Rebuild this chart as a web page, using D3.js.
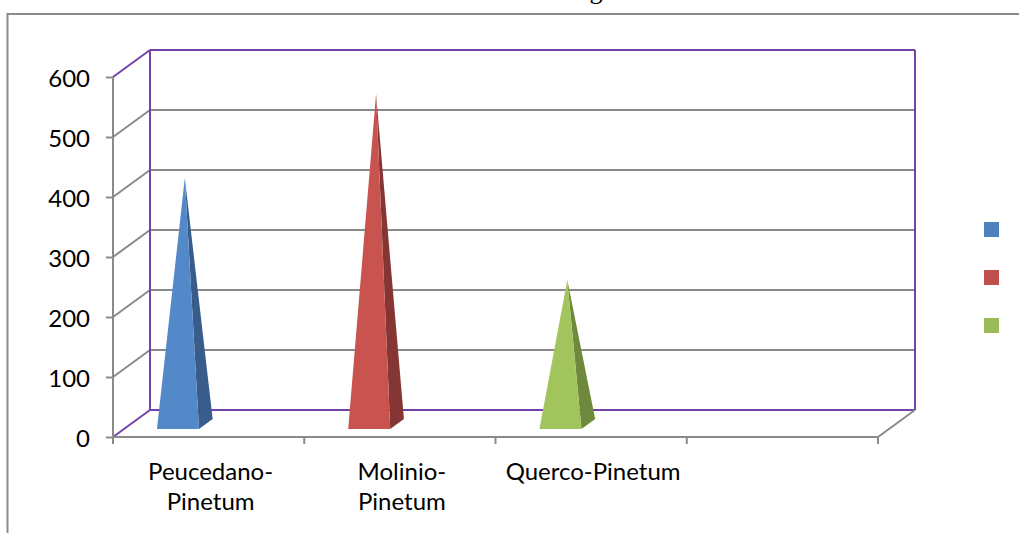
<!DOCTYPE html>
<html>
<head>
<meta charset="utf-8">
<script src="https://cdn.jsdelivr.net/npm/d3@7"></script>
<style>
  body { margin: 0; background: #fff; }
  svg { display: block; }
</style>
</head>
<body>
<script>
// chart data
const categories = ["Peucedano-Pinetum", "Molinio-Pinetum", "Querco-Pinetum", ""];
const tickLabels = [["Peucedano-", "Pinetum"], ["Molinio-", "Pinetum"], ["Querco-Pinetum"], [""]];
const values = [410, 550, 240, null];
const yTicks = [0, 100, 200, 300, 400, 500, 600];
const seriesColors = ["#4F81BD", "#C0504D", "#9BBB59"];
const frontColors = ["#5489c9", "#c9534f", "#a2c45d"];
const sideColors = ["#395d8b", "#853634", "#6f8a3d"];

let width = 1019;
let height = 533;

// 3D depth offset of the back wall
const depthX = 37, depthY = -27;

const x = d3.scaleBand()
    .domain(categories.map((d, i) => i))
    .range([113, 878])
    .padding(0);

const y = d3.scaleLinear()
    .domain([0, 600])
    .range([437, 77]);

const svg = d3.select("body").append("svg")
    .attr("width", width)
    .attr("height", height)
    .attr("viewBox", [0, 0, width, height]);

// outer chart border
svg.append("rect")
    .attr("x", 7.5).attr("y", 14)
    .attr("width", 1040).attr("height", 540)
    .attr("fill", "none")
    .attr("stroke", "#8c8c8c")
    .attr("stroke-width", 2);

// title remnant at top (cut off by the page edge, as in the source)
svg.append("text")
    .attr("x", 596).attr("y", -1)
    .attr("text-anchor", "middle")
    .style("font-family", "Liberation Serif")
    .style("font-size", "26px")
    .attr("fill", "#000")
    .text("g");

const gray = "#8a8a8a";
const purple = "#7443aa";
const xL = x.range()[0], xR = x.range()[1];

// gridlines on back wall + diagonals on side wall
const grid = svg.append("g").attr("stroke-width", 2).attr("fill", "none");
yTicks.forEach(v => {
    const edge = (v === 0 || v === 600);
    grid.append("line")
        .attr("x1", xL + depthX).attr("x2", xR + depthX)
        .attr("y1", y(v) + depthY).attr("y2", y(v) + depthY)
        .attr("stroke", edge ? purple : gray);
    grid.append("line")
        .attr("x1", xL).attr("y1", y(v))
        .attr("x2", xL + depthX).attr("y2", y(v) + depthY)
        .attr("stroke", edge ? purple : gray);
});

// back wall vertical edges
grid.append("line")
    .attr("x1", xL + depthX).attr("x2", xL + depthX)
    .attr("y1", y(600) + depthY).attr("y2", y(0) + depthY)
    .attr("stroke", purple);
grid.append("line")
    .attr("x1", xR + depthX).attr("x2", xR + depthX)
    .attr("y1", y(600) + depthY).attr("y2", y(0) + depthY)
    .attr("stroke", purple);

// floor right diagonal
grid.append("line")
    .attr("x1", xR).attr("y1", y(0))
    .attr("x2", xR + depthX).attr("y2", y(0) + depthY)
    .attr("stroke", gray);

// front y-axis
svg.append("g")
    .attr("transform", `translate(${xL},0)`)
    .call(d3.axisLeft(y).tickValues(yTicks).tickSize(7).tickPadding(16))
    .call(g => g.selectAll("line, path").attr("stroke", gray).attr("stroke-width", 2))
    .call(g => g.select(".domain").attr("d", `M0,${y(600)}V${y(0)}`))
    .call(g => g.selectAll("text")
        .attr("dy", "0.4em")
        .style("font-family", "Lato")
        .style("font-size", "24px")
        .attr("fill", "#000"));

// front x-axis
svg.append("g")
    .attr("transform", `translate(0,${y(0)})`)
    .call(d3.axisBottom(x).tickSize(0).tickFormat(""))
    .call(g => g.select(".domain").attr("d", `M${xL},0H${xR}`)
        .attr("stroke", gray).attr("stroke-width", 2))
    .call(g => g.selectAll(".tick").remove())
    .call(g => g.selectAll(".sep")
        .data(categories.map((d, i) => i).concat([categories.length]))
        .join("line")
        .attr("x1", i => i < categories.length ? x(i) : xR)
        .attr("x2", i => i < categories.length ? x(i) : xR)
        .attr("y1", 0).attr("y2", 7)
        .attr("stroke", gray).attr("stroke-width", 2));

// category labels
const labels = svg.append("g")
    .style("font-family", "Lato")
    .style("font-size", "24px")
    .attr("fill", "#000")
    .attr("text-anchor", "middle");
tickLabels.forEach((lines, i) => {
    const t = labels.append("text")
        .attr("x", x(i) + x.bandwidth() / 2 + 2)
        .attr("y", 480);
    lines.forEach((ln, j) => {
        t.append("tspan")
            .attr("x", x(i) + x.bandwidth() / 2 + 2)
            .attr("dy", j === 0 ? 0 : 30)
            .text(ln);
    });
});

// pyramids
const dFront = 8 / 27, dBack = 18 / 27, dMid = (dFront + dBack) / 2;
const pt = (px, v, d) => [px + depthX * d, y(v) + depthY * d];
const pyr = svg.append("g");
values.forEach((v, i) => {
    if (v == null) return;
    const c = x(i) + 54, hw = 21;
    const fl = pt(c - hw, 0, dFront), fr = pt(c + hw, 0, dFront);
    const br = pt(c + hw, 0, dBack);
    const apex = pt(c, v, dMid);
    pyr.append("polygon")
        .attr("points", [fr, br, apex].map(p => p.join(",")).join(" "))
        .attr("fill", sideColors[i]);
    pyr.append("polygon")
        .attr("points", [fl, fr, apex].map(p => p.join(",")).join(" "))
        .attr("fill", frontColors[i]);
});

// legend (squares only)
svg.append("g")
    .selectAll("rect")
    .data(seriesColors)
    .join("rect")
    .attr("x", 984)
    .attr("y", (d, i) => 222 + i * 48)
    .attr("width", 15)
    .attr("height", 15)
    .attr("fill", d => d);
</script>
</body>
</html>
